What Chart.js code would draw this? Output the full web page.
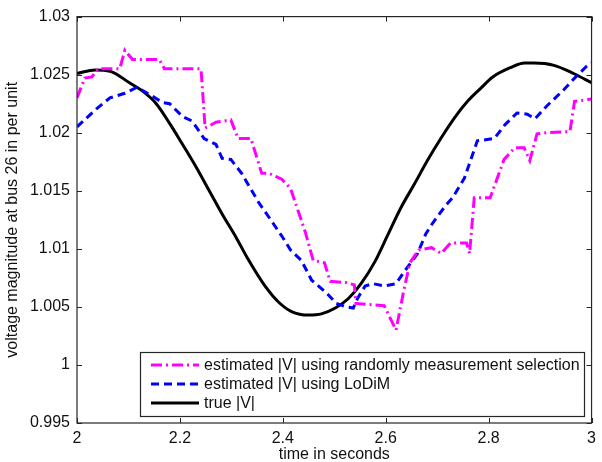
<!DOCTYPE html>
<html>
<head>
<meta charset="utf-8">
<script src="https://cdn.jsdelivr.net/npm/chart.js@4.4.1/dist/chart.umd.min.js"></script>
<style>
  html, body { margin: 0; padding: 0; background: #fff; }
  #wrap { width: 602px; height: 462px; }
</style>
</head>
<body>
<div id="wrap"><canvas id="voltage-chart"></canvas></div>
<script>
const seriesLabels = [
    'estimated |V| using randomly measurement selection',
    'estimated |V| using LoDiM',
    'true |V|',
];

const xTicks = [2, 2.2, 2.4, 2.6, 2.8, 3];
const yTicks = [0.995, 1, 1.005, 1.01, 1.015, 1.02, 1.025, 1.03];

// random measurement selection (magenta, dash-dot)
const randT = [2.000, 2.015, 2.029, 2.041, 2.083, 2.093, 2.108, 2.160, 2.170, 2.241, 2.249, 2.270, 2.299, 2.313, 2.338, 2.359, 2.373, 2.398, 2.415, 2.444, 2.459, 2.481, 2.492, 2.523, 2.539, 2.542, 2.597, 2.620, 2.635, 2.647, 2.664, 2.689, 2.708, 2.726, 2.757, 2.763, 2.772, 2.803, 2.830, 2.851, 2.869, 2.880, 2.894, 2.913, 2.958, 2.967, 3.000];
const randV = [1.0230, 1.0247, 1.0248, 1.0255, 1.0255, 1.0271, 1.0263, 1.0263, 1.0255, 1.0255, 1.0204, 1.0209, 1.0211, 1.0195, 1.0195, 1.0165, 1.0165, 1.0160, 1.0152, 1.0114, 1.0090, 1.0088, 1.0072, 1.0071, 1.0069, 1.0053, 1.0051, 1.0030, 1.0064, 1.0088, 1.0099, 1.0101, 1.0096, 1.0105, 1.0105, 1.0096, 1.0144, 1.0144, 1.0177, 1.0187, 1.0187, 1.0176, 1.0199, 1.0200, 1.0201, 1.0227, 1.0229];

// LoDiM (blue, dashed)
const lodimT = [2.000, 2.039, 2.064, 2.093, 2.116, 2.141, 2.166, 2.180, 2.205, 2.224, 2.247, 2.270, 2.282, 2.299, 2.320, 2.353, 2.378, 2.398, 2.415, 2.436, 2.456, 2.485, 2.504, 2.523, 2.537, 2.546, 2.560, 2.575, 2.598, 2.620, 2.637, 2.662, 2.678, 2.691, 2.716, 2.730, 2.753, 2.778, 2.811, 2.832, 2.855, 2.875, 2.890, 2.913, 2.946, 2.967, 2.990, 3.000];
const lodimV = [1.0205, 1.0221, 1.0230, 1.0234, 1.0239, 1.0233, 1.0226, 1.0225, 1.0214, 1.0210, 1.0195, 1.0190, 1.0178, 1.0177, 1.0165, 1.0140, 1.0124, 1.0111, 1.0099, 1.0090, 1.0073, 1.0062, 1.0053, 1.0050, 1.0049, 1.0058, 1.0068, 1.0070, 1.0068, 1.0070, 1.0081, 1.0096, 1.0113, 1.0122, 1.0137, 1.0144, 1.0161, 1.0193, 1.0195, 1.0207, 1.0217, 1.0216, 1.0212, 1.0223, 1.0237, 1.0247, 1.0257, 1.0260];

// true |V| (black, solid)
const trueT = [2.000, 2.035, 2.064, 2.102, 2.127, 2.154, 2.180, 2.205, 2.232, 2.257, 2.282, 2.309, 2.330, 2.367, 2.392, 2.417, 2.450, 2.475, 2.502, 2.527, 2.552, 2.579, 2.604, 2.629, 2.656, 2.681, 2.707, 2.734, 2.759, 2.784, 2.808, 2.842, 2.870, 2.888, 2.927, 2.965, 3.000];
const trueV = [1.0251, 1.0254, 1.0253, 1.0243, 1.0236, 1.0225, 1.0208, 1.0190, 1.0170, 1.0150, 1.0130, 1.0110, 1.0093, 1.0067, 1.0054, 1.0046, 1.0043, 1.0044, 1.0049, 1.0057, 1.0070, 1.0089, 1.0112, 1.0135, 1.0156, 1.0176, 1.0195, 1.0213, 1.0227, 1.0238, 1.0248, 1.0256, 1.0260, 1.0260, 1.0258, 1.0251, 1.0243];

const toPoints = (ts, vs) => ts.map((t, i) => ({x: t, y: vs[i]}));
const fontFamily = '"Liberation Sans", Arial, Helvetica, sans-serif';

// matlab style box with inward ticks
const axesBox = {
    id: 'axesBox',
    afterDatasetsDraw(chart) {
        const {ctx, chartArea: a, scales} = chart;
        ctx.save();
        ctx.strokeStyle = '#262626';
        ctx.lineWidth = 1.2;
        ctx.strokeRect(a.left, a.top, a.right - a.left, a.bottom - a.top);
        ctx.lineWidth = 1;
        ctx.beginPath();
        xTicks.forEach(t => {
            const px = Math.round(scales.x.getPixelForValue(t)) + 0.5;
            ctx.moveTo(px, a.bottom); ctx.lineTo(px, a.bottom - 5);
            ctx.moveTo(px, a.top); ctx.lineTo(px, a.top + 5);
        });
        yTicks.forEach(v => {
            const py = Math.round(scales.y.getPixelForValue(v)) + 0.5;
            ctx.moveTo(a.left, py); ctx.lineTo(a.left + 5, py);
            ctx.moveTo(a.right, py); ctx.lineTo(a.right - 5, py);
        });
        ctx.stroke();
        ctx.restore();
    }
};

// legend drawn inside the axes, bottom right
const boxLegend = {
    id: 'boxLegend',
    afterDraw(chart) {
        const {ctx, chartArea: a} = chart;
        const sets = chart.data.datasets;
        ctx.save();
        ctx.font = '16px ' + fontFamily;
        const textW = Math.max(...sets.map(d => ctx.measureText(d.label).width));
        const w = Math.round(11 + 48 + 5 + textW + 4);
        const h = 64;
        const x0 = Math.round(a.right - 8 - w);
        const y0 = Math.round(a.bottom - 7 - h);
        ctx.fillStyle = '#fff';
        ctx.fillRect(x0, y0, w, h);
        ctx.strokeStyle = '#262626';
        ctx.lineWidth = 1.2;
        ctx.strokeRect(x0 + 0.5, y0 + 0.5, w, h);
        sets.forEach((d, i) => {
            const y = y0 + 13 + i * 19;
            ctx.beginPath();
            ctx.strokeStyle = d.borderColor;
            ctx.lineWidth = d.borderWidth;
            ctx.setLineDash(d.borderDash || []);
            ctx.moveTo(x0 + 11, y);
            ctx.lineTo(x0 + 59, y);
            ctx.stroke();
            ctx.setLineDash([]);
            ctx.fillStyle = '#111';
            ctx.textBaseline = 'middle';
            ctx.fillText(d.label, x0 + 64, y + 1);
        });
        ctx.restore();
    }
};

new Chart(document.getElementById('voltage-chart'), {
    type: 'line',
    data: {
        datasets: [{
            label: seriesLabels[0],
            data: toPoints(randT, randV),
            borderColor: 'rgb(255,0,255)',
            borderWidth: 3,
            borderDash: [11, 4, 2, 4],
            tension: 0,
        }, {
            label: seriesLabels[1],
            data: toPoints(lodimT, lodimV),
            borderColor: 'rgb(0,0,255)',
            borderWidth: 3,
            borderDash: [8, 5],
            tension: 0,
        }, {
            label: seriesLabels[2],
            data: toPoints(trueT, trueV),
            borderColor: 'rgb(0,0,0)',
            borderWidth: 3,
            cubicInterpolationMode: 'monotone',
        }]
    },
    options: {
        animation: false,
        events: [],
        responsive: true,
        maintainAspectRatio: false,
        elements: {
            point: { radius: 0 }
        },
        layout: {
            padding: { left: 0, top: 15, right: 7, bottom: 0 }
        },
        scales: {
            x: {
                type: 'linear',
                min: 2,
                max: 3,
                afterBuildTicks: s => { s.ticks = xTicks.map(v => ({value: v})); },
                afterFit: s => { s.height = 39; },
                grid: { display: false, drawTicks: false },
                border: { display: false },
                ticks: {
                    padding: 6,
                    color: '#111',
                    font: { family: fontFamily, size: 16 },
                    callback: v => String(+v.toFixed(3)),
                },
                title: {
                    display: true,
                    text: 'time in seconds',
                    color: '#111',
                    padding: 0,
                    font: { family: fontFamily, size: 16, lineHeight: 0.9 },
                },
            },
            y: {
                min: 0.995,
                max: 1.03,
                afterBuildTicks: s => { s.ticks = yTicks.map(v => ({value: v})); },
                afterFit: s => { s.width = 77; },
                grid: { display: false, drawTicks: false },
                border: { display: false },
                ticks: {
                    padding: 7,
                    color: '#111',
                    font: { family: fontFamily, size: 16 },
                    callback: v => String(+v.toFixed(3)),
                },
                title: {
                    display: true,
                    text: 'voltage magnitude at bus 26 in per unit',
                    color: '#111',
                    padding: 3,
                    font: { family: fontFamily, size: 16, lineHeight: 1.2 },
                },
            }
        },
        plugins: {
            legend: { display: false },
            tooltip: { enabled: false },
        }
    },
    plugins: [axesBox, boxLegend],
});
</script>
</body>
</html>
